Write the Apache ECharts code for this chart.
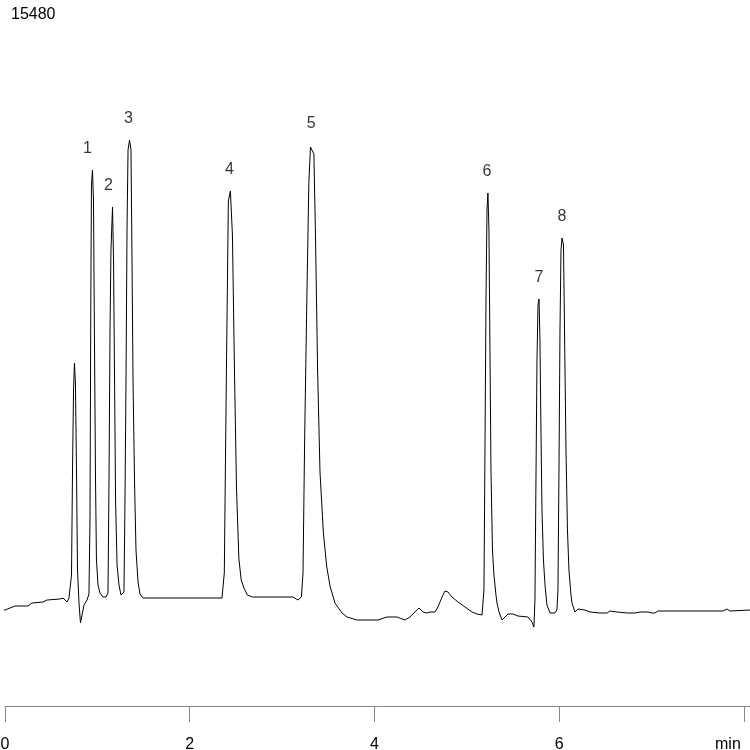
<!DOCTYPE html>
<html>
<head>
<meta charset="utf-8">
<script src="https://cdn.jsdelivr.net/npm/echarts@6/dist/echarts.min.js"></script>
<style>
  html, body { margin: 0; padding: 0; background: #fff; }
  #chart { width: 750px; height: 750px; }
</style>
</head>
<body>
<div id="chart"></div>
<script>
// retention time (min) and detector signal
const times = [
  -0.054, 0, 0.054, 0.108, 0.249, 0.292, 0.411, 0.455, 0.595, 0.628, 0.671, 0.693, 0.704,
  0.720, 0.731, 0.742, 0.752, 0.763, 0.774, 0.785, 0.801, 0.817, 0.834, 0.855, 0.888, 0.909,
  0.920, 0.929, 0.936, 0.947, 0.958, 0.967, 0.980, 0.990, 1.007, 1.028, 1.061, 1.093, 1.115,
  1.126, 1.137, 1.147, 1.164, 1.175, 1.186, 1.197, 1.213, 1.234, 1.256, 1.277, 1.288,
  1.299, 1.310, 1.321, 1.332, 1.348, 1.364, 1.375, 1.386, 1.402, 1.418, 1.440, 1.461, 1.494,
  2.349, 2.374, 2.397, 2.418, 2.440, 2.462, 2.484, 2.506, 2.532, 2.557, 2.587, 2.623, 2.678,
  3.118, 3.172, 3.209, 3.226, 3.244, 3.267, 3.289, 3.307, 3.325, 3.344, 3.361, 3.384, 3.410,
  3.446, 3.482, 3.518, 3.572, 3.648, 3.702, 3.810, 4.038, 4.135, 4.243, 4.330, 4.384, 4.438,
  4.482, 4.525, 4.568, 4.601, 4.655, 4.687, 4.731, 4.763, 4.795, 4.839, 4.904, 4.980, 5.055,
  5.109, 5.164, 5.185, 5.196, 5.207, 5.218, 5.228, 5.239, 5.250, 5.261, 5.277, 5.293, 5.315,
  5.326, 5.348, 5.380, 5.413, 5.445, 5.499, 5.553, 5.661, 5.705, 5.726,
  5.737, 5.748, 5.759, 5.770, 5.781, 5.791, 5.802, 5.813, 5.829, 5.846, 5.867, 5.900, 5.954, 5.975,
  5.986, 5.997, 6.008, 6.019, 6.030, 6.046, 6.057, 6.073, 6.089, 6.105, 6.127, 6.138, 6.170,
  6.203, 6.279, 6.333, 6.441, 6.517, 6.549, 6.625, 6.733, 6.820, 6.874, 6.960, 7.004, 7.036,
  7.069, 7.772, 7.816, 7.848, 8.065
];
const signal = [
  3680, 3680, 3720, 3760, 3760, 3820, 3840, 3880, 3900, 3920, 3840, 3920, 3960,
  4380, 6480, 8080, 8620, 8180, 6480, 4480, 3820, 3420, 3580, 3780, 3880, 4000,
  5480, 9880, 12180, 12480, 11880, 9480, 6280, 4680, 4180, 4020, 3940, 3940, 4020,
  6280, 9280, 10880, 11740, 10680, 8280, 5880, 4580, 4180, 3980, 3940, 4040,
  5880, 8280, 11280, 12880, 13080, 12880, 10680, 8280, 6280, 4880, 4240, 4000, 3920,
  3920, 4420, 8480, 11860, 12060, 11180, 8480, 6120, 4700, 4280, 4120, 3980, 3940,
  3940, 3880, 3940, 4420, 7120, 9820, 12200, 12940, 12980, 12800, 11180, 8480, 6440,
  5240, 4560, 4160, 3820, 3620, 3540, 3480, 3480, 3540, 3540, 3480, 3540, 3640,
  3720, 3640, 3620, 3640, 3640, 3740, 3940, 4060, 4040, 3940, 3840, 3740, 3640,
  3600, 3580, 4080, 6880, 9880, 11680, 12020, 11280, 8880, 6480, 4880, 4380, 3980,
  3820, 3640, 3480, 3540, 3600, 3600, 3560, 3540, 3440, 3340,
  3880, 6280, 8680, 9780, 9900, 9080, 7280, 5680, 4680, 4180, 3780, 3620, 3620, 3680,
  4080, 6480, 9280, 10880, 11120, 10980, 9280, 6880, 5280, 4480, 3980, 3820, 3640,
  3700, 3680, 3640, 3620, 3620, 3660, 3640, 3620, 3620, 3640, 3640, 3620, 3620,
  3660, 3660, 3700, 3660, 3680
];

// numbered peaks: apex time and height
const peakNames = ['1', '2', '3', '4', '5', '6', '7', '8'];
const peakTimes = [0.947, 1.164, 1.348, 2.440, 3.325, 5.228, 5.781, 6.030];
const peakHeights = [12480, 11740, 13080, 12060, 12980, 12020, 9900, 11120];

const xTicks = [0, 2, 4, 6, 8];
const fullScale = 15480;

// small sideways nudges for the peak numbers (px)
const labelNudge = [-5, -4, -1, -1, -1, -1, 0, 0];

const chart = echarts.init(document.getElementById('chart'));

const trace = times.map((t, i) => [t, signal[i]]);
const peaks = peakTimes.map((t, i) => ({
  value: [t, peakHeights[i]],
  name: peakNames[i],
  label: { offset: [labelNudge[i], 0] }
}));

const font = 'Liberation Sans';

chart.setOption({
  animation: false,
  title: {
    text: String(fullScale),
    left: 6,
    top: 2,
    textStyle: { fontFamily: font, fontSize: 16, fontWeight: 'normal', color: '#000' }
  },
  grid: { left: 5, right: 0, top: 20, bottom: 44, outerBoundsMode: 'none' },
  xAxis: {
    type: 'value',
    min: xTicks[0],
    max: 8.065,
    splitLine: { show: false },
    axisLine: { lineStyle: { color: '#888', width: 1 } },
    axisTick: { length: 16, lineStyle: { color: '#888' }, customValues: xTicks },
    axisLabel: {
      customValues: xTicks,
      margin: 31,
      color: '#000',
      fontFamily: font,
      fontSize: 16,
      formatter: v => (v === 8 ? '{m|min}' : String(v)),
      rich: { m: { width: 58, align: 'left', fontFamily: font, fontSize: 16, color: '#000' } }
    }
  },
  yAxis: {
    type: 'value',
    min: 1760,
    max: fullScale,
    show: false
  },
  series: [
    {
      type: 'line',
      data: trace,
      showSymbol: false,
      clip: false,
      lineStyle: { color: '#000', width: 1 },
      silent: true
    },
    {
      type: 'scatter',
      data: peaks,
      symbolSize: 1,
      itemStyle: { color: 'transparent' },
      label: {
        show: true,
        position: 'top',
        distance: 13,
        formatter: p => p.name,
        color: '#000',
        fontFamily: font,
        fontSize: 16
      }
    }
  ]
});
</script>
</body>
</html>
